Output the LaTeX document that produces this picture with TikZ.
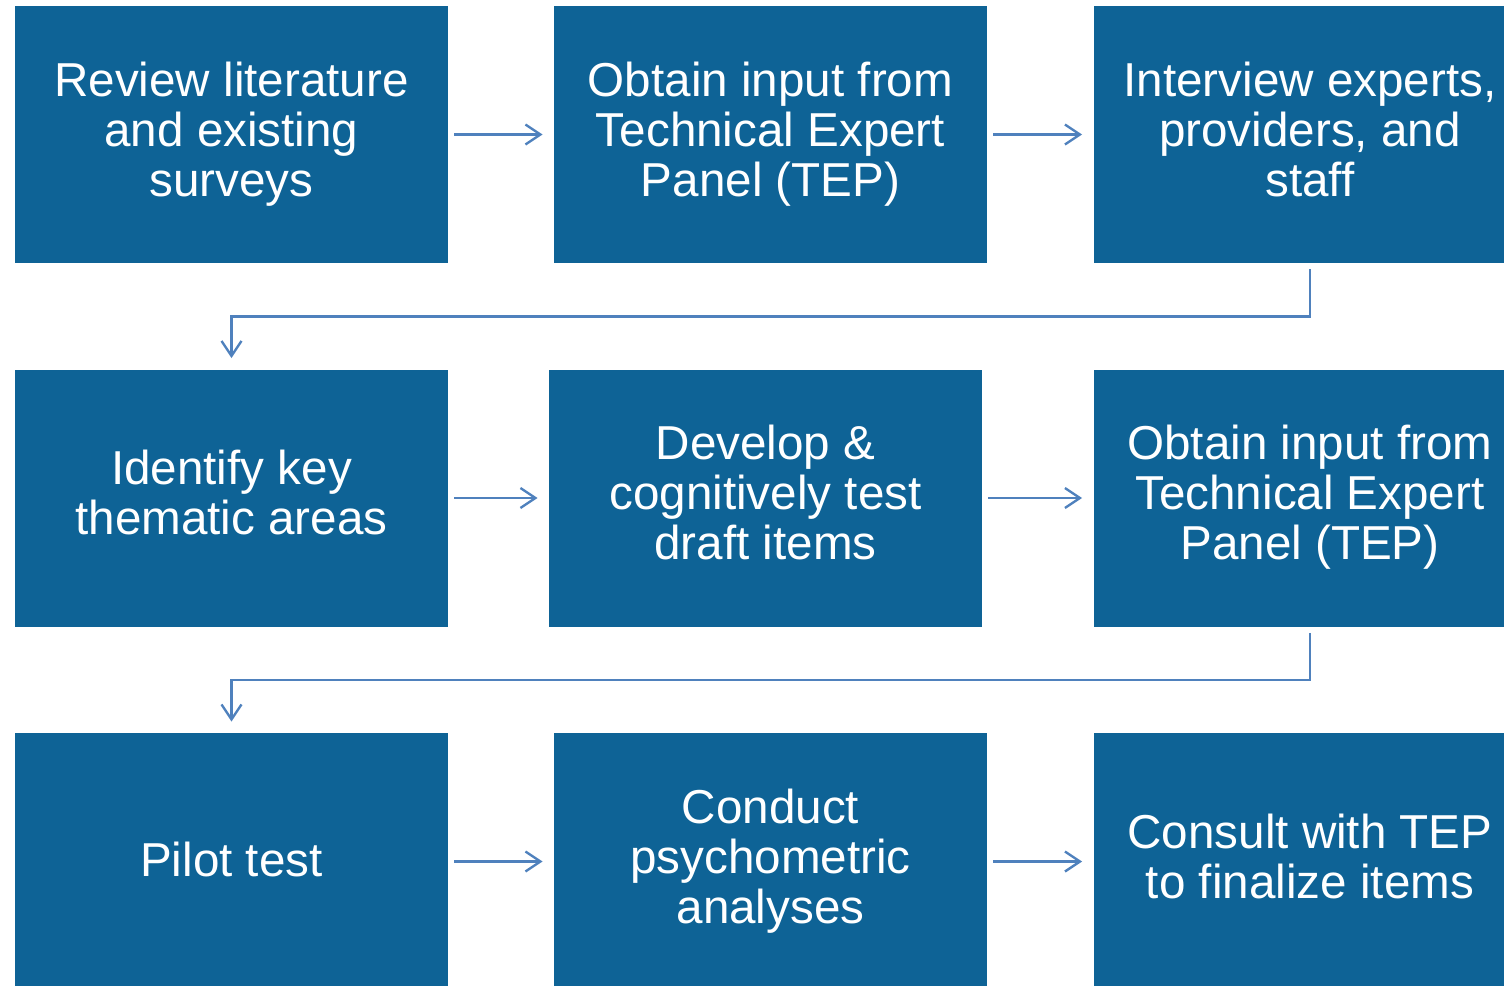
\documentclass[tikz,border=0pt]{standalone}
\usepackage{fontspec}
\setmainfont{Liberation Sans}
\usepackage{xcolor}
\usepackage{tikz}
\usetikzlibrary{arrows.meta, calc}

\definecolor{BoxBlue}{RGB}{14,99,150}
\definecolor{FlowBlue}{RGB}{79,129,189}

\begin{document}
\begin{tikzpicture}[x=0.5pt, y=-0.5pt,
  stepbox/.style={fill=BoxBlue, text=white, minimum width=216.5pt, minimum height=128.5pt,
    inner sep=0pt, align=center, font=\fontsize{23.8}{25}\selectfont,
    execute at begin node={\rule{0pt}{20pt}},
    execute at end node={\rule[-5.5pt]{0pt}{5.5pt}}},
  flow/.style={draw=FlowBlue, line width=1.2pt, -{Straight Barb[length=7.5pt, width=10pt]},
    shorten <=3pt, shorten >=5.5pt}]

  \useasboundingbox (0,0) rectangle (1504,985);
  \clip (0,0) rectangle (1504,985);

  % first row
  \node[stepbox] (A1) at (231.5,134.5) {Review literature\\and existing\\surveys};
  \node[stepbox] (A2) at (770.5,134.5) {Obtain input from\\Technical Expert\\Panel (TEP)};
  \node[stepbox] (A3) at (1310,134.5) {Interview experts,\\providers, and\\staff};

  % second row
  \node[stepbox] (B1) at (231.5,498) {Identify key\\thematic areas};
  \node[stepbox] (B2) at (765.5,498) {Develop \&\\cognitively test\\draft items};
  \node[stepbox] (B3) at (1310,498) {Obtain input from\\Technical Expert\\Panel (TEP)};

  % third row
  \node[stepbox] (C1) at (231.5,861.5) {Pilot test};
  \node[stepbox] (C2) at (770.5,861.5) {Conduct\\psychometric\\analyses};
  \node[stepbox] (C3) at (1310,861.5) {Consult with TEP\\to finalize items};

  \draw[flow] (A1) -- (A2);
  \draw[flow] (A2) -- (A3);
  \draw[flow] (A3.south) -- ++(0,53) -| (B1.north);

  \draw[flow] (B1) -- (B2);
  \draw[flow] (B2) -- (B3);
  \draw[flow] (B3.south) -- ++(0,53) -| (C1.north);

  \draw[flow] (C1) -- (C2);
  \draw[flow] (C2) -- (C3);

\end{tikzpicture}
\end{document}
